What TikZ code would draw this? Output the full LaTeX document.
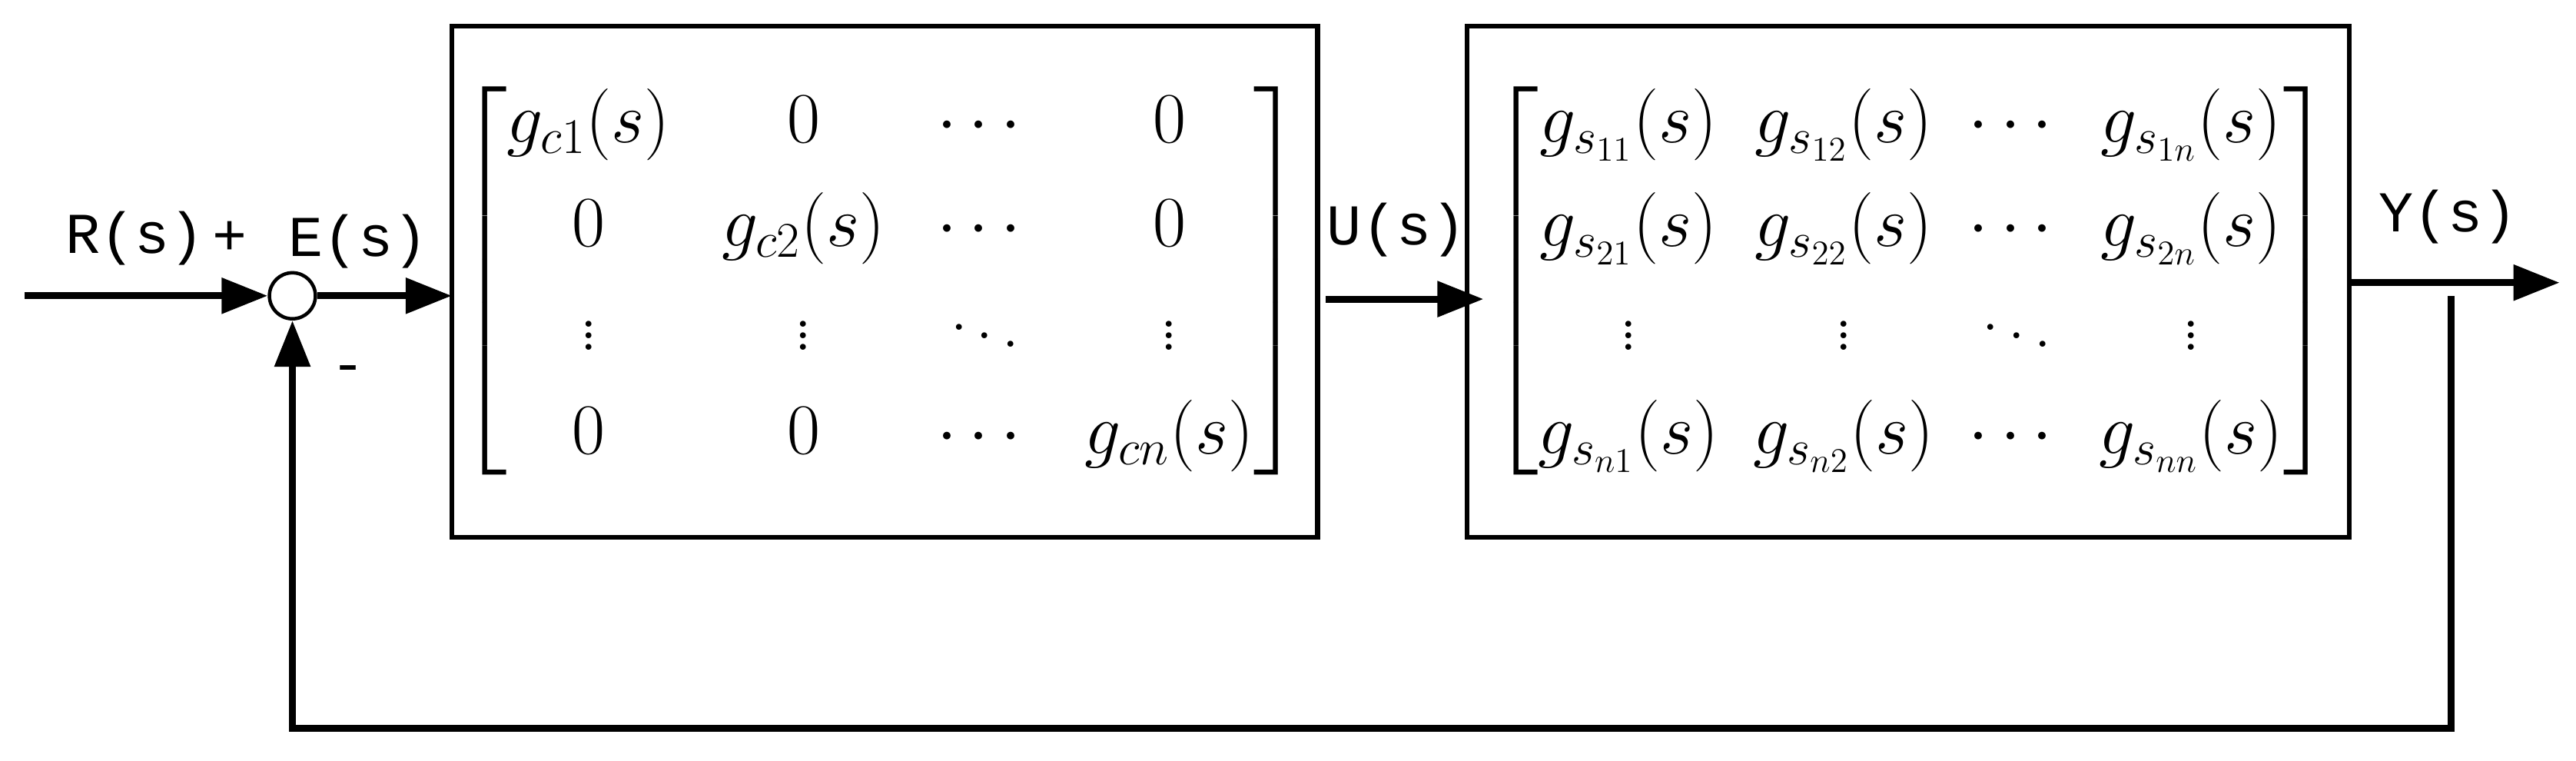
\documentclass[tikz,border=0pt]{standalone}
\usepackage{amsmath}
\usepackage{fontspec}
\newfontfamily\lblfont{Liberation Mono}
\usetikzlibrary{arrows.meta}
\begin{document}
\begin{tikzpicture}[x=0.02cm,y=-0.02cm, line width=1.6pt,
  blk/.style={draw,line width=1.6pt},
  sig/.style={-{Triangle[length=16pt,width=12pt]},line width=2.4pt},
  lbl/.style={font=\lblfont\fontsize{20}{24}\selectfont,inner sep=0pt},
  mtx/.style={font=\fontsize{25}{30}\selectfont,inner sep=0pt}]
  \useasboundingbox (0,0) rectangle (1568,463);
  % blocks
  \draw[blk] (275,16) rectangle (802,327);
  \draw[blk] (893,16) rectangle (1430,327);
  \node[mtx] (ctrl) at (536,171) {\setlength{\arraycolsep}{9pt}$\begin{bmatrix}
    g_{c1}(s) & 0 & \cdots & 0\\[6pt]
    0 & g_{c2}(s) & \cdots & 0\\[6pt]
    \vdots & \vdots & \ddots & \vdots\\[6pt]
    0 & 0 & \cdots & g_{cn}(s)
  \end{bmatrix}$};
  \node[mtx] (plant) at (1163,171) {\setlength{\arraycolsep}{6pt}$\begin{bmatrix}
    g_{s_{11}}(s) & g_{s_{12}}(s) & \cdots & g_{s_{1n}}(s)\\[6pt]
    g_{s_{21}}(s) & g_{s_{22}}(s) & \cdots & g_{s_{2n}}(s)\\[6pt]
    \vdots & \vdots & \ddots & \vdots\\[6pt]
    g_{s_{n1}}(s) & g_{s_{n2}}(s) & \cdots & g_{s_{nn}}(s)
  \end{bmatrix}$};
  % summing junction
  \node[draw,circle,minimum size=0.56cm,inner sep=0pt,line width=1.2pt] (sum) at (178,180) {};
  \coordinate (in) at (15,180);
  \coordinate (c1in) at (275,180);
  \coordinate (c1out) at (807,182);
  \coordinate (p1in) at (903,182);
  \coordinate (p1out) at (1430,172);
  \coordinate (out) at (1558,172);
  \coordinate (tap) at (1492,180);
  \coordinate (fb1) at (1492,443);
  \coordinate (fb2) at (178,443);
  \draw[sig] (in) -- (sum.west);
  \draw[sig] (sum.east) -- (c1in);
  \draw[sig] (c1out) -- (p1in);
  \draw[sig] (p1out) -- (out);
  \draw[sig] (tap) -- (fb1) -- (fb2) -- (sum.south);
  % labels
  \node[lbl] (r) at (82,145) {R(s)};
  \node[lbl] (plus) at (140,145) {+};
  \node[lbl] (e) at (218,147) {E(s)};
  \node[lbl] (minus) at (212,228) {-};
  \node[lbl] (u) at (850,140) {U(s)};
  \node[lbl] (y) at (1490,132) {Y(s)};
\end{tikzpicture}
\end{document}
